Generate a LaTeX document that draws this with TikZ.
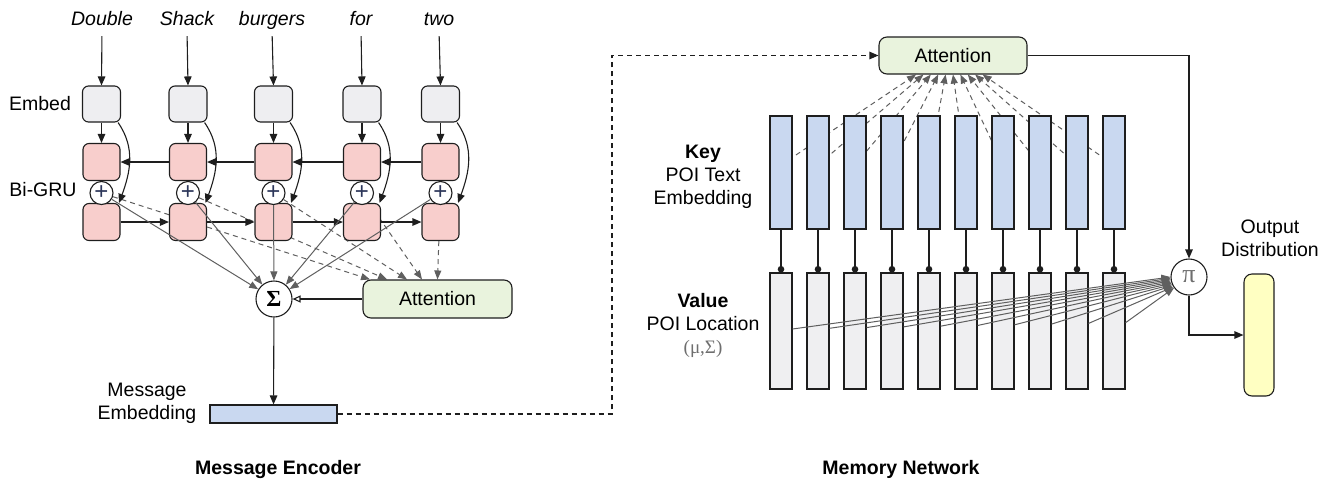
\documentclass[tikz,border=0pt]{standalone}
\usepackage{fontspec}
\setmainfont{Liberation Sans}
\newfontfamily\grserif{Liberation Serif}
\usetikzlibrary{arrows.meta,calc}
\pgfdeclarelayer{bg}
\pgfsetlayers{bg,main}
\definecolor{bordc}{RGB}{30,30,30}
\definecolor{linegray}{RGB}{95,95,95}
\definecolor{embfill}{RGB}{238,238,241}
\definecolor{grufill}{RGB}{248,206,204}
\definecolor{attfill}{RGB}{233,243,221}
\definecolor{bluefill}{RGB}{201,216,240}
\definecolor{valfill}{RGB}{239,239,241}
\definecolor{outfill}{RGB}{255,255,194}
\definecolor{plusc}{RGB}{45,55,90}
\definecolor{symgray}{RGB}{110,110,110}
\begin{document}
\begin{tikzpicture}[x=1pt,y=-1pt,
  font=\fontsize{19.5}{23}\selectfont,
  box/.style={draw=bordc, line width=1.1pt, rounded corners=6pt, inner sep=0pt},
  embbox/.style={box, fill=embfill, minimum width=38pt, minimum height=36pt},
  grubox/.style={box, fill=grufill, minimum width=37pt, minimum height=37pt},
  pluscirc/.style={circle, draw=bordc, line width=1.1pt, fill=white, minimum size=23pt, inner sep=0pt, text=plusc, font=\fontsize{24}{24}\selectfont},
  bigcirc/.style={circle, draw=bordc, line width=1.1pt, fill=white, minimum size=36pt, inner sep=0pt},
  attbox/.style={draw=bordc, line width=1.1pt, rounded corners=8pt, fill=attfill, inner sep=0pt},
  keybar/.style={draw=bordc, line width=1.1pt, fill=bluefill, minimum width=22pt, minimum height=113pt, inner sep=0pt},
  valbar/.style={draw=bordc, line width=1.1pt, fill=valfill, minimum width=22pt, minimum height=116pt, inner sep=0pt},
  word/.style={anchor=base, inner sep=0pt, text depth=5pt, font=\fontsize{19.5}{23}\selectfont\itshape},
  ttl/.style={font=\fontsize{19.5}{23}\selectfont\bfseries},
  arr/.style={line width=1.1pt, draw=bordc, -{Triangle[length=9pt,width=7.5pt]}},
  openarr/.style={line width=1.1pt, draw=bordc, -{Triangle[open,length=8pt,width=7pt]}},
  garr/.style={line width=1pt, draw=linegray, -{Triangle[length=9pt,width=7pt]}},
  gdash/.style={garr, dash pattern=on 5pt off 4pt},
  darr/.style={arr, dash pattern=on 5pt off 4pt},
  dotl/.style={line width=1.1pt, draw=bordc, -{Circle[length=6.5pt]}}
]
\useasboundingbox (0,0) rectangle (1330,480);

% ---------------- Message encoder ----------------
\foreach \i/\x/\w in {1/102/Double,2/187/Shack,3/272/burgers,4/361/for,5/439/two}
  \node[word] (w\i) at (\x,25) {\w};

\foreach \i/\x in {1/101.5,2/188,3/273.5,4/362,5/440.5} {
  \node[embbox] (e\i) at (\x,104) {};
  \node[grubox] (u\i) at (\x,162) {};
  \node[grubox] (l\i) at (\x,222) {};
  \node[pluscirc] (p\i) at (\x,193) {+};
}

\foreach \i in {1,...,5} {
  \draw[arr, shorten <=6pt] (w\i.south) -- (e\i.north);
  \draw[arr] (e\i) -- (u\i);
  \draw[arr] ([xshift=-3pt]e\i.south east) to[out=-55,in=70] ([xshift=-1.5pt]l\i.north east);
}
\foreach \a/\b in {1/2,2/3,3/4,4/5} {
  \draw[arr] (u\b) -- (u\a);
  \draw[arr] (l\a) -- (l\b);
}

\node (lemb) at (40,104) {Embed};
\node (lgru) at (43,190) {Bi-GRU};

\node[attbox, minimum width=149pt, minimum height=38pt] (att1) at (437.5,299) {Attention};
\node[bigcirc] (sig) at (274,299) {\fontsize{23}{23}\selectfont\grserif\bfseries Σ};
\node[draw=bordc, line width=1.1pt, fill=bluefill, minimum width=127pt, minimum height=18pt, inner sep=0pt] (msg) at (273.5,414) {};
\node[align=center] (lmsg) at (147,403.5) {Message\\Embedding};

\draw[openarr] (att1) -- (sig);
\draw[arr] (sig) -- (msg);
\foreach \i in {1,...,5} \draw[garr] (p\i) -- (sig);
\begin{pgfonlayer}{bg}
\foreach \i/\s in {1/-67.5,2/-50.5,3/-30.5,4/-15.5,5/0}
  \draw[gdash] (p\i) -- ([xshift=\s pt]att1.north);
\end{pgfonlayer}

\node[ttl] (t1) at (278,469) {Message Encoder};

% ---------------- Memory network ----------------
\node[attbox, minimum width=148pt, minimum height=37pt] (att2) at (953,55.5) {Attention};
\node[bigcirc] (pi) at (1189,277) {\fontsize{26}{26}\selectfont\grserif\color{symgray}π};
\node[draw=bordc, line width=1.1pt, rounded corners=8pt, fill=outfill, minimum width=30pt, minimum height=122pt, inner sep=0pt] (out) at (1259,335) {};
\node[align=center] (lout) at (1270,238) {Output\\Distribution};

\coordinate (bend) at (612,414);
\draw[darr] (msg.east) -- (bend) |- (att2.west);
\draw[arr] (att2.east) -| (pi.north);
\draw[arr] (pi.south) |- (out.west);

\foreach \i in {0,...,9} {
  \pgfmathsetmacro\bx{781+37*\i}
  \node[keybar] (k\i) at (\bx,172.5) {};
  \node[valbar] (v\i) at (\bx,331) {};
  \draw[dotl] (k\i.south) -- (v\i.north);
}
\begin{pgfonlayer}{bg}
\foreach \i in {0,...,9}
  \draw[gdash] ([yshift=7.5pt]k\i.center) -- ([xshift={-37pt+7.4pt*\i}]att2.south);
\end{pgfonlayer}
\foreach \i in {0,...,9} {
  \pgfmathtruncatemacro\ang{180+4*\i}
  \draw[garr] ([yshift={2pt+0.7pt*\i}]v\i.east) -- (pi.\ang);
}

\node[align=center] (lkey) at (703,177) {\textbf{Key}\\POI Text\\Embedding};
\node[align=center] (lval) at (703,325) {\textbf{Value}\\POI Location\\{\fontsize{19}{23}\selectfont\grserif\color{symgray}(μ,Σ)}};

\node[ttl] (t2) at (901,469) {Memory Network};
\end{tikzpicture}
\end{document}
